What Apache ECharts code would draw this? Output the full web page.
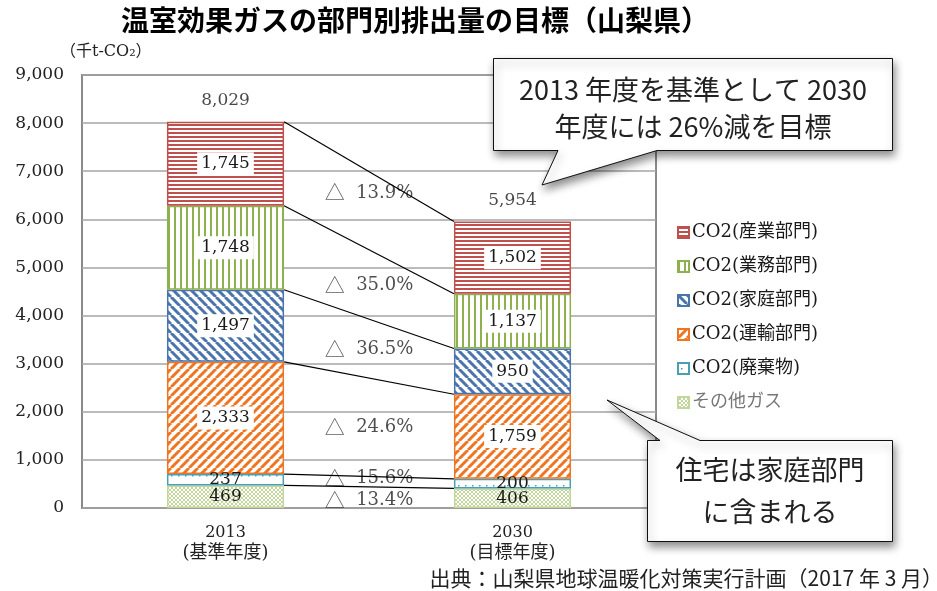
<!DOCTYPE html>
<html>
<head>
<meta charset="utf-8">
<title>温室効果ガスの部門別排出量の目標（山梨県）</title>
<script src="https://cdn.jsdelivr.net/npm/echarts@6.0.0/dist/echarts.min.js"></script>
<style>
  html, body { margin: 0; padding: 0; background: #fff; }
  #chart { width: 937px; height: 591px; }
</style>
</head>
<body>
<div id="chart"></div>
<script>
(function () {

    /* ---------- data ---------- */
    var categories = ['2013', '2030'];
    var categorySubs = ['(基準年度)', '(目標年度)'];

    // stacked bottom -> top
    var sectorNames = ['その他ガス', 'CO2(廃棄物)', 'CO2(運輸部門)', 'CO2(家庭部門)', 'CO2(業務部門)', 'CO2(産業部門)'];
    var otherGas  = [469, 406];
    var waste     = [237, 200];
    var transport = [2333, 1759];
    var household = [1497, 950];
    var business  = [1748, 1137];
    var industry  = [1745, 1502];
    var totals    = [8029, 5954];

    // where the "△ xx%" notes sit (value axis), bottom -> top
    var reductionLabelY = [165, 625, 1685, 3290, 4620, 6550];

    var yMax = 9000;
    var yStep = 1000;

    /* ---------- styles ---------- */
    var serif = '"DejaVu Serif", "Noto Sans CJK JP", serif';
    var gothic = '"Noto Sans CJK JP", sans-serif';
    var colors = ['#c3d69b', '#4a9fb5', '#ee7522', '#4a74ab', '#8fb04f', '#c0504d'];
    var patternKinds = ['cross', 'dots', 'slash', 'backslash', 'vline', 'hline'];

    function makePattern(kind, color) {
        var sizes = { cross: [4, 4], dots: [7, 10], slash: [9, 9], backslash: [9, 9], vline: [6, 6], hline: [4, 4] };
        var w = sizes[kind][0], h = sizes[kind][1];
        var c = document.createElement('canvas');
        c.width = w;
        c.height = h;
        var ctx = c.getContext('2d');
        ctx.fillStyle = '#fff';
        ctx.fillRect(0, 0, w, h);
        ctx.fillStyle = color;
        ctx.strokeStyle = color;
        if (kind === 'hline') {
            ctx.fillRect(0, 0, w, 2);
        } else if (kind === 'vline') {
            ctx.fillRect(0, 0, 2, h);
        } else if (kind === 'dots') {
            ctx.fillRect(3, 5, 1.5, 1.5);
        } else if (kind === 'cross') {
            ctx.lineWidth = 1;
            ctx.beginPath();
            ctx.moveTo(0, 0); ctx.lineTo(w, h);
            ctx.moveTo(w, 0); ctx.lineTo(0, h);
            ctx.stroke();
        } else {
            ctx.lineWidth = 3;
            ctx.beginPath();
            for (var k = -1; k <= 1; k++) {
                if (kind === 'backslash') {
                    ctx.moveTo(k * w, 0); ctx.lineTo(k * w + w, h);
                } else {
                    ctx.moveTo(k * w, h); ctx.lineTo(k * w + w, 0);
                }
            }
            ctx.stroke();
        }
        return c;
    }

    function fmt(v) {
        return Number(v).toLocaleString('en-US');
    }

    var seriesData = [otherGas, waste, transport, household, business, industry];
    var barRatio = 0.408;   // bar width / category band
    var half = barRatio / 2;

    /* ---------- bars ---------- */
    var series = seriesData.map(function (vals, i) {
        return {
            name: sectorNames[i],
            type: 'bar',
            stack: 'total',
            barWidth: (barRatio * 100) + '%',
            itemStyle: {
                color: { image: makePattern(patternKinds[i], colors[i]), repeat: 'repeat' },
                borderColor: colors[i],
                borderWidth: 1.5
            },
            label: {
                show: true,
                position: 'inside',
                formatter: function (p) { return fmt(p.value); },
                fontFamily: serif,
                fontSize: 17,
                color: '#1a1a1a',
                backgroundColor: '#fff',
                padding: [3, 4]
            },
            // thin segments: text sits straight on the hatching
            data: vals.map(function (v) {
                return v < 500 ? { value: v, label: { backgroundColor: 'transparent', padding: 0 } } : v;
            }),
            z: 2
        };
    });

    /* ---------- connectors between the two bars ---------- */
    var links = [];
    var cumA = 0, cumB = 0;
    seriesData.forEach(function (vals) {
        cumA += vals[0];
        cumB += vals[1];
        links.push({ coords: [[half, cumA], [1 - half, cumB]] });
    });
    series.push({
        type: 'lines',
        coordinateSystem: 'cartesian2d',
        xAxisIndex: 1,
        yAxisIndex: 0,
        silent: true,
        data: links,
        lineStyle: { color: '#000', width: 1.2, opacity: 1 },
        z: 6
    });

    /* ---------- "△ xx%" reduction notes ---------- */
    series.push({
        type: 'scatter',
        xAxisIndex: 1,
        yAxisIndex: 0,
        silent: true,
        symbolSize: 1,
        itemStyle: { color: 'rgba(0,0,0,0)' },
        data: reductionLabelY.map(function (y, i) {
            var vals = seriesData[i];
            var pct = ((1 - vals[1] / vals[0]) * 100).toFixed(1);
            return [0.5, y, pct];
        }),
        label: {
            show: true,
            position: 'inside',
            formatter: function (p) { return '{t|△}{n|  ' + p.value[2] + '%}'; },
            rich: {
                t: { fontFamily: gothic, fontSize: 20, color: '#333' },
                n: { fontFamily: serif, fontSize: 18, color: '#222' }
            }
        },
        z: 3
    });

    /* ---------- totals above bars ---------- */
    series.push({
        type: 'scatter',
        xAxisIndex: 0,
        yAxisIndex: 0,
        silent: true,
        symbolSize: 1,
        itemStyle: { color: 'rgba(0,0,0,0)' },
        data: totals,
        label: {
            show: true,
            position: 'top',
            distance: 12,
            formatter: function (p) { return fmt(p.value); },
            fontFamily: serif,
            fontSize: 17,
            color: '#1a1a1a'
        },
        z: 3
    });

    var legendOrder = sectorNames.slice().reverse();

    var myChart = echarts.init(document.getElementById('chart'));

    var option = {
        animation: false,
        backgroundColor: '#fff',
        title: {
            text: '温室効果ガスの部門別排出量の目標（山梨県）',
            left: 121,
            top: 6,
            padding: 0,
            textStyle: { fontFamily: gothic, fontWeight: 'bold', fontSize: 28, color: '#000' }
        },
        legend: {
            orient: 'vertical',
            left: 677,
            top: 222,
            padding: 0,
            itemWidth: 11,
            itemHeight: 11,
            itemGap: 13,
            icon: 'rect',
            data: legendOrder.map(function (n) {
                return n === 'その他ガス' ? { name: n, textStyle: { color: '#777' } } : n;
            }),
            textStyle: { fontFamily: serif, fontSize: 18, color: '#1a1a1a', lineHeight: 21, padding: [0, 0, 0, -2] }
        },
        grid: {
            left: 82,
            right: 937 - 656,
            top: 75,
            bottom: 591 - 508,
            show: true,
            borderColor: '#8a8a8a',
            borderWidth: 2,
            backgroundColor: '#fff'
        },
        xAxis: [
            {
                type: 'category',
                data: categories,
                axisLine: { show: false },
                axisTick: { show: false },
                axisLabel: {
                    margin: 14,
                    color: '#222',
                    formatter: function (v, i) { return '{n|' + v + '}\n{s|' + categorySubs[i] + '}'; },
                    rich: {
                        n: { fontFamily: serif, fontSize: 16, lineHeight: 21, color: '#222' },
                        s: { fontFamily: serif, fontSize: 18, lineHeight: 21, color: '#222' }
                    }
                }
            },
            {
                type: 'value',
                min: -0.5,
                max: 1.5,
                show: false
            }
        ],
        yAxis: {
            type: 'value',
            min: 0,
            max: yMax,
            interval: yStep,
            axisLine: { show: false },
            axisTick: { show: false },
            axisLabel: {
                margin: 18,
                fontFamily: serif,
                fontSize: 17,
                color: '#222',
                formatter: fmt
            },
            splitLine: { lineStyle: { color: '#a4a4a4', width: 1.5 } }
        },
        graphic: [
            {
                type: 'text',
                x: 60,
                y: 52,
                style: { text: '（千t-CO₂）', fontFamily: serif, fontSize: 16, fill: '#222', verticalAlign: 'middle' }
            },
            {
                type: 'polygon',
                z: 100,
                shape: { points: [[493.5, 58.5], [892.5, 58.5], [892.5, 150.5], [657, 150.5], [542, 185], [558, 150.5], [493.5, 150.5]] },
                style: { fill: '#fff', stroke: '#111', lineWidth: 1, shadowBlur: 8, shadowOffsetX: 2, shadowOffsetY: 5, shadowColor: 'rgba(0,0,0,0.45)' }
            },
            {
                type: 'text',
                z: 101,
                x: 693,
                y: 108,
                style: {
                    text: '2013 年度を基準として 2030\n年度には 26%減を目標',
                    fontFamily: gothic, fontSize: 27, lineHeight: 37, fill: '#222',
                    align: 'center', verticalAlign: 'middle'
                }
            },
            {
                type: 'polygon',
                z: 100,
                shape: { points: [[647.5, 440.5], [660, 440.5], [607, 400], [700, 440.5], [892.5, 440.5], [892.5, 541.5], [647.5, 541.5]] },
                style: { fill: '#fff', stroke: '#111', lineWidth: 1, shadowBlur: 8, shadowOffsetX: 2, shadowOffsetY: 5, shadowColor: 'rgba(0,0,0,0.45)' }
            },
            {
                type: 'text',
                z: 101,
                x: 770,
                y: 491,
                style: {
                    text: '住宅は家庭部門\nに含まれる',
                    fontFamily: gothic, fontSize: 27, lineHeight: 42, fill: '#222',
                    align: 'center', verticalAlign: 'middle'
                }
            },
            {
                type: 'text',
                x: 943,
                y: 578,
                style: {
                    text: '出典：山梨県地球温暖化対策実行計画（2017 年 3 月）',
                    fontFamily: gothic, fontSize: 21, fill: '#222',
                    align: 'right', verticalAlign: 'middle'
                }
            }
        ],
        series: series
    };

    myChart.setOption(option);
}());
</script>
</body>
</html>
